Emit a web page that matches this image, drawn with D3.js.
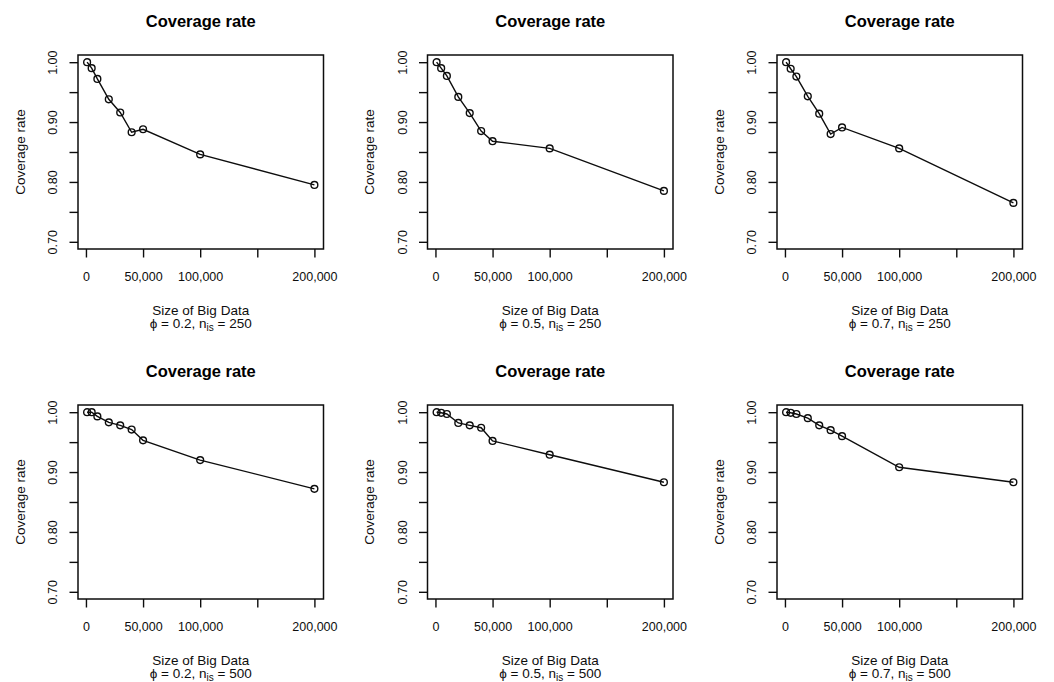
<!DOCTYPE html>
<html>
<head>
<meta charset="utf-8">
<script src="https://cdn.jsdelivr.net/npm/d3@7"></script>
<style>
  body { margin: 0; background: #fff; }
  svg { display: block; font-family: "Liberation Sans", Arial, sans-serif; }
</style>
</head>
<body>
<svg id="chart" width="1054" height="682"></svg>
<script>
// sizes of big data (x) and coverage rates for each panel
const sizes = [1000, 5000, 10000, 20000, 30000, 40000, 50000, 100000, 200000];
const cov_02_250 = [1.000, 0.990, 0.972, 0.938, 0.916, 0.883, 0.888, 0.846, 0.795];
const cov_05_250 = [1.000, 0.990, 0.977, 0.942, 0.915, 0.885, 0.868, 0.856, 0.785];
const cov_07_250 = [1.000, 0.989, 0.976, 0.943, 0.914, 0.880, 0.891, 0.856, 0.765];
const cov_02_500 = [1.000, 1.000, 0.993, 0.983, 0.978, 0.971, 0.953, 0.920, 0.872];
const cov_05_500 = [1.000, 0.999, 0.997, 0.982, 0.978, 0.974, 0.952, 0.929, 0.883];
const cov_07_500 = [1.000, 0.999, 0.997, 0.990, 0.978, 0.970, 0.960, 0.908, 0.883];

const phis = ["0.2", "0.5", "0.7"];
const nis = ["250", "500"];

const xTicks = [0, 50000, 100000, 150000, 200000];
const xTickLabels = ["0", "50,000", "100,000", "", "200,000"];
const yTicks = [0.70, 0.75, 0.80, 0.85, 0.90, 0.95, 1.00];
const yTickLabels = ["0.70", "", "0.80", "", "0.90", "", "1.00"];

const series = [
  [cov_02_250, cov_05_250, cov_07_250],
  [cov_02_500, cov_05_500, cov_07_500]
];

const svg = d3.select("#chart");

const boxLeft = [78, 427.5, 777],
   boxTop = [55, 405],
   boxW = 245.5,
   boxH = 194;

// R style 4% range extension
const xlo = 1000, xhi = 200000, ylo = 0.70, yhi = 1.00;
const xpad = (xhi - xlo) * 0.04, ypad = (yhi - ylo) * 0.04;

var xScale = d3.scaleLinear().domain([xlo - xpad, xhi + xpad]).range([0, boxW]),
   yScale = d3.scaleLinear().domain([ylo - ypad, yhi + ypad]).range([boxH, 0]);

const line = d3.line()
   .x(function (d) { return xScale(d[0]); })
   .y(function (d) { return yScale(d[1]); });

const ink = "#0d0d0d";

series.forEach(function (row, r) {
   row.forEach(function (vals, c) {
      const g = svg.append("g")
         .attr("transform", "translate(" + boxLeft[c] + "," + boxTop[r] + ")");

      // title
      g.append("text")
         .attr("x", boxW / 2).attr("y", -28.5)
         .attr("text-anchor", "middle")
         .attr("font-size", "16.5px").attr("font-weight", "bold").attr("fill", "#000")
         .text("Coverage rate");

      // x axis
      const xa = g.append("g")
         .attr("transform", "translate(0," + boxH + ")")
         .call(d3.axisBottom(xScale).tickValues(xTicks)
            .tickFormat(function (d, i) { return xTickLabels[i]; })
            .tickSize(8.5).tickPadding(15));
      xa.select(".domain").remove();
      xa.selectAll("line").attr("stroke", ink).attr("stroke-width", 1.4);
      xa.selectAll("text").attr("font-size", "12.5px").attr("fill", ink)
         .attr("font-family", "Liberation Sans, Arial, sans-serif");

      // y axis, labels rotated like R
      const ya = g.append("g")
         .call(d3.axisLeft(yScale).tickValues(yTicks)
            .tickFormat(function (d, i) { return yTickLabels[i]; })
            .tickSize(8.5));
      ya.select(".domain").remove();
      ya.selectAll("line").attr("stroke", ink).attr("stroke-width", 1.4);
      ya.selectAll("text")
         .attr("x", null).attr("dy", null)
         .attr("transform", "translate(-20.7,0) rotate(-90)")
         .attr("text-anchor", "middle")
         .attr("font-size", "12.5px").attr("fill", ink)
         .attr("font-family", "Liberation Sans, Arial, sans-serif");

      // box
      g.append("rect")
         .attr("width", boxW).attr("height", boxH)
         .attr("fill", "none").attr("stroke", ink).attr("stroke-width", 1.5);

      // axis titles
      g.append("text")
         .attr("transform", "translate(" + (-53.5) + "," + (boxH / 2) + ") rotate(-90)")
         .attr("text-anchor", "middle").attr("font-size", "13.5px").attr("fill", ink)
         .text("Coverage rate");

      g.append("text")
         .attr("x", boxW / 2).attr("y", boxH + 65.5)
         .attr("text-anchor", "middle").attr("font-size", "13.5px").attr("fill", ink)
         .text("Size of Big Data");

      const sub = g.append("text")
         .attr("x", boxW / 2).attr("y", boxH + 78.5)
         .attr("text-anchor", "middle").attr("font-size", "13.5px").attr("fill", ink);
      sub.append("tspan").text("\u03D5 = " + phis[c] + ", n");
      sub.append("tspan").attr("font-size", "10px").attr("dy", 3).text("is");
      sub.append("tspan").attr("dy", -3).text(" = " + nis[r]);

      // data
      const pts = sizes.map(function (s, i) { return [s, vals[i]]; });
      g.append("path")
         .datum(pts)
         .attr("d", line)
         .attr("fill", "none").attr("stroke", ink).attr("stroke-width", 1.4);

      g.selectAll(".pt")
         .data(pts)
         .enter().append("circle")
         .attr("class", "pt")
         .attr("cx", function (d) { return xScale(d[0]); })
         .attr("cy", function (d) { return yScale(d[1]); })
         .attr("r", 3.4)
         .attr("fill", "none").attr("stroke", ink).attr("stroke-width", 1.4);
   });
});
</script>
</body>
</html>
